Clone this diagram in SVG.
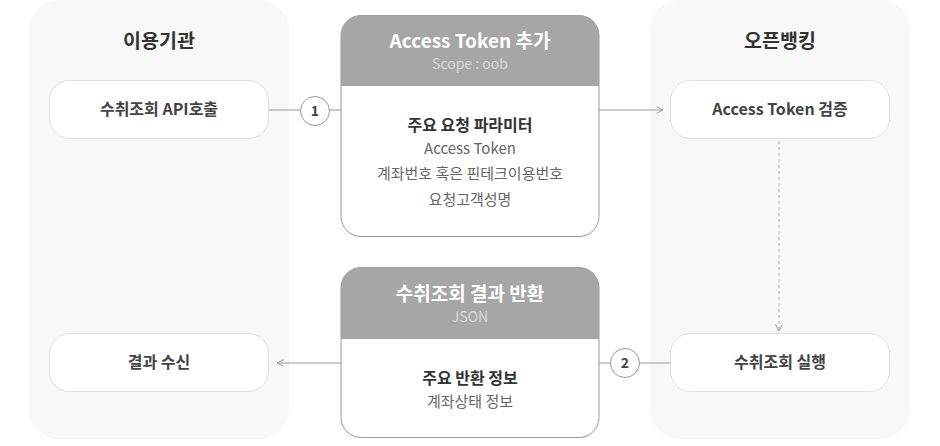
<svg xmlns="http://www.w3.org/2000/svg" width="940" height="446" viewBox="0 0 940 446">
<style>
text{font-family:"Noto Sans CJK KR","Noto Sans",sans-serif;text-anchor:middle}
.panel{fill:#f8f8f8}
.node{fill:#fff;stroke:#e0e0e0;stroke-width:1}
.card{fill:#fff;stroke:#999;stroke-width:1}
.head{fill:#a6a6a6}
.ptitle{font-size:19.5px;font-weight:bold;fill:#333}
.ntext{font-size:16px;font-weight:bold;fill:#444}
.htitle{font-size:19px;font-weight:bold;fill:#fff}
.hsub{font-size:14px;fill:#d9d9d9}
.btitle{font-size:16px;font-weight:bold;fill:#333}
.btext{font-size:15px;fill:#666}
.line{stroke:#999;stroke-width:1;fill:none}
.dash{stroke:#aaa;stroke-width:1;fill:none;stroke-dasharray:3 3}
.circ{fill:#fff;stroke:#999;stroke-width:1}
.num{font-size:14px;font-weight:bold;fill:#444}
</style>
<defs>
<marker id="arr" viewBox="0 0 10 10" refX="9" refY="5" markerWidth="8" markerHeight="8" orient="auto" markerUnits="userSpaceOnUse">
<path d="M1,1 L9,5 L1,9" fill="none" stroke="#999" stroke-width="1.2"/>
</marker>
</defs>
<g id="panel-left">
<rect class="panel" x="29" y="0" width="260" height="439" rx="30"/>
<text class="ptitle" x="159" y="48">이용기관</text>
</g>
<g id="panel-right">
<rect class="panel" x="650" y="0" width="260" height="439" rx="30"/>
<text class="ptitle" x="780" y="48">오픈뱅킹</text>
</g>
<g id="connectors">
<line class="line" x1="269" y1="110" x2="341" y2="110"/>
<line class="line" x1="599" y1="110" x2="663" y2="110" marker-end="url(#arr)"/>
<line class="dash" x1="779" y1="141" x2="779" y2="331" marker-end="url(#arr)"/>
<line class="line" x1="670" y1="363" x2="599" y2="363"/>
<line class="line" x1="341" y1="363" x2="277" y2="363" marker-end="url(#arr)"/>
</g>
<g id="node-api-call">
<rect class="node" x="49.5" y="80.5" width="219" height="58" rx="20"/>
<text class="ntext" x="159" y="115">수취조회 API호출</text>
</g>
<g id="node-result-receive">
<rect class="node" x="49.5" y="333.5" width="219" height="58" rx="20"/>
<text class="ntext" x="159" y="368">결과 수신</text>
</g>
<g id="node-token-verify">
<rect class="node" x="670.5" y="80.5" width="219" height="58" rx="20"/>
<text class="ntext" x="780" y="115">Access Token 검증</text>
</g>
<g id="node-execute">
<rect class="node" x="670.5" y="333.5" width="219" height="58" rx="20"/>
<text class="ntext" x="780" y="368">수취조회 실행</text>
</g>
<g id="card-request">
<rect class="card" x="341" y="15.5" width="258" height="221" rx="20"/>
<path class="head" d="M341,86 V35.5 A20,20 0 0 1 361,15.5 H579 A20,20 0 0 1 599,35.5 V86 Z"/>
<text class="htitle" x="470" y="48">Access Token 추가</text>
<text class="hsub" x="470" y="69">Scope : oob</text>
<text class="btitle" x="470" y="131">주요 요청 파라미터</text>
<text class="btext" x="470" y="154">Access Token</text>
<text class="btext" x="470" y="179">계좌번호 혹은 핀테크이용번호</text>
<text class="btext" x="470" y="205">요청고객성명</text>
</g>
<g id="card-response">
<rect class="card" x="341" y="267.5" width="258" height="170" rx="20"/>
<path class="head" d="M341,339 V287.5 A20,20 0 0 1 361,267.5 H579 A20,20 0 0 1 599,287.5 V339 Z"/>
<text class="htitle" x="470" y="301">수취조회 결과 반환</text>
<text class="hsub" x="470" y="322">JSON</text>
<text class="btitle" x="470" y="384">주요 반환 정보</text>
<text class="btext" x="470" y="407">계좌상태 정보</text>
</g>
<g id="badge-1">
<circle class="circ" cx="315" cy="111" r="14.5"/>
<text class="num" x="315" y="116">1</text>
</g>
<g id="badge-2">
<circle class="circ" cx="625" cy="363" r="14.5"/>
<text class="num" x="625" y="368">2</text>
</g>
</svg>
